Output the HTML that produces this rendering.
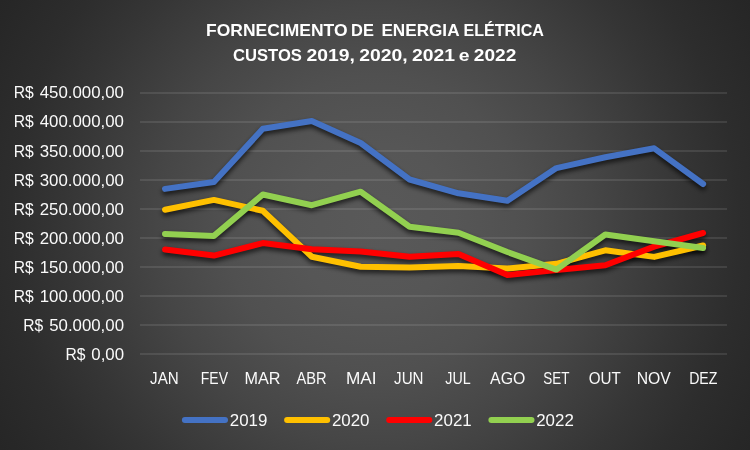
<!DOCTYPE html>
<html lang="pt-BR">
<head>
<meta charset="utf-8">
<title>Fornecimento de Energia Elétrica</title>
<style>
html,body{margin:0;padding:0;background:#262626;}
body{width:750px;height:450px;overflow:hidden;}
svg{display:block;}
text{font-family:"Liberation Sans",sans-serif;fill:#ffffff;}
.ax text{font-size:17px;fill:#fafafa;}
.title text{font-size:17.3px;font-weight:bold;}
.grid line{stroke:#ffffff;stroke-opacity:0.2;stroke-width:1;}
.series polyline,.legend line{fill:none;stroke-width:6;stroke-linecap:round;stroke-linejoin:round;}
</style>
</head>
<body>
<svg width="750" height="450" viewBox="0 0 750 450">
<defs>
<radialGradient id="bg" gradientUnits="userSpaceOnUse" cx="375" cy="225" r="437.3">
<stop offset="0" stop-color="#595959"/>
<stop offset="0.185" stop-color="#565656"/>
<stop offset="0.343" stop-color="#505050"/>
<stop offset="0.5" stop-color="#464646"/>
<stop offset="0.64" stop-color="#3b3b3b"/>
<stop offset="0.716" stop-color="#353535"/>
<stop offset="0.835" stop-color="#2d2d2d"/>
<stop offset="0.97" stop-color="#272727"/>
<stop offset="1" stop-color="#262626"/>
</radialGradient>
<filter id="sh" x="0" y="0" width="750" height="450" filterUnits="userSpaceOnUse">
<feGaussianBlur in="SourceAlpha" stdDeviation="2.5"/>
<feOffset dx="0" dy="3"/>
<feComponentTransfer><feFuncA type="linear" slope="0.7"/></feComponentTransfer>
</filter>
</defs>
<rect x="0" y="0" width="750" height="450" fill="url(#bg)"/>
<g class="title">
<text y="35.6"><tspan x="206.1" textLength="141.4" lengthAdjust="spacingAndGlyphs">FORNECIMENTO</tspan> <tspan x="351.1" textLength="22.8" lengthAdjust="spacingAndGlyphs">DE</tspan> <tspan x="381.4" textLength="77.5" lengthAdjust="spacingAndGlyphs">ENERGIA</tspan> <tspan x="463.5" textLength="80.4" lengthAdjust="spacingAndGlyphs">ELÉTRICA</tspan></text>
<text y="60.7"><tspan x="233.0" textLength="68.9" lengthAdjust="spacingAndGlyphs">CUSTOS</tspan> <tspan x="306.4" textLength="48.4" lengthAdjust="spacingAndGlyphs">2019,</tspan> <tspan x="359.2" textLength="48.4" lengthAdjust="spacingAndGlyphs">2020,</tspan> <tspan x="412.1" textLength="43.0" lengthAdjust="spacingAndGlyphs">2021</tspan> <tspan x="458.7" textLength="10.8" lengthAdjust="spacingAndGlyphs">e</tspan> <tspan x="473.8" textLength="42.5" lengthAdjust="spacingAndGlyphs">2022</tspan></text>
</g>
<g class="grid">
<line x1="140" x2="727" y1="93" y2="93"/>
<line x1="140" x2="727" y1="122" y2="122"/>
<line x1="140" x2="727" y1="151" y2="151"/>
<line x1="140" x2="727" y1="180" y2="180"/>
<line x1="140" x2="727" y1="209" y2="209"/>
<line x1="140" x2="727" y1="238" y2="238"/>
<line x1="140" x2="727" y1="267" y2="267"/>
<line x1="140" x2="727" y1="296" y2="296"/>
<line x1="140" x2="727" y1="325" y2="325"/>
<line x1="140" x2="727" y1="354" y2="354"/>
</g>
<g class="ax">
<text y="97.9"><tspan x="13.8" textLength="20" lengthAdjust="spacingAndGlyphs">R$</tspan> <tspan x="39.7" textLength="84.3" lengthAdjust="spacingAndGlyphs">450.000,00</tspan></text>
<text y="126.9"><tspan x="13.8" textLength="20" lengthAdjust="spacingAndGlyphs">R$</tspan> <tspan x="39.7" textLength="84.3" lengthAdjust="spacingAndGlyphs">400.000,00</tspan></text>
<text y="156.9"><tspan x="13.8" textLength="20" lengthAdjust="spacingAndGlyphs">R$</tspan> <tspan x="39.7" textLength="84.3" lengthAdjust="spacingAndGlyphs">350.000,00</tspan></text>
<text y="185.9"><tspan x="13.8" textLength="20" lengthAdjust="spacingAndGlyphs">R$</tspan> <tspan x="39.7" textLength="84.3" lengthAdjust="spacingAndGlyphs">300.000,00</tspan></text>
<text y="214.9"><tspan x="13.8" textLength="20" lengthAdjust="spacingAndGlyphs">R$</tspan> <tspan x="39.7" textLength="84.3" lengthAdjust="spacingAndGlyphs">250.000,00</tspan></text>
<text y="243.9"><tspan x="13.8" textLength="20" lengthAdjust="spacingAndGlyphs">R$</tspan> <tspan x="39.7" textLength="84.3" lengthAdjust="spacingAndGlyphs">200.000,00</tspan></text>
<text y="272.9"><tspan x="13.8" textLength="20" lengthAdjust="spacingAndGlyphs">R$</tspan> <tspan x="39.7" textLength="84.3" lengthAdjust="spacingAndGlyphs">150.000,00</tspan></text>
<text y="301.9"><tspan x="13.8" textLength="20" lengthAdjust="spacingAndGlyphs">R$</tspan> <tspan x="39.7" textLength="84.3" lengthAdjust="spacingAndGlyphs">100.000,00</tspan></text>
<text y="330.9"><tspan x="23.3" textLength="20" lengthAdjust="spacingAndGlyphs">R$</tspan> <tspan x="49.2" textLength="74.8" lengthAdjust="spacingAndGlyphs">50.000,00</tspan></text>
<text y="359.9"><tspan x="65.4" textLength="20" lengthAdjust="spacingAndGlyphs">R$</tspan> <tspan x="91.3" textLength="32.7" lengthAdjust="spacingAndGlyphs">0,00</tspan></text>
<text x="164.4" y="384" text-anchor="middle" textLength="28.6" lengthAdjust="spacingAndGlyphs">JAN</text>
<text x="214.4" y="384" text-anchor="middle" textLength="27.2" lengthAdjust="spacingAndGlyphs">FEV</text>
<text x="262.5" y="384" text-anchor="middle" textLength="36.0" lengthAdjust="spacingAndGlyphs">MAR</text>
<text x="311.6" y="384" text-anchor="middle" textLength="30.2" lengthAdjust="spacingAndGlyphs">ABR</text>
<text x="361.2" y="384" text-anchor="middle" textLength="30.6" lengthAdjust="spacingAndGlyphs">MAI</text>
<text x="408.8" y="384" text-anchor="middle" textLength="29.4" lengthAdjust="spacingAndGlyphs">JUN</text>
<text x="458.0" y="384" text-anchor="middle" textLength="25.4" lengthAdjust="spacingAndGlyphs">JUL</text>
<text x="507.7" y="384" text-anchor="middle" textLength="35.2" lengthAdjust="spacingAndGlyphs">AGO</text>
<text x="556.4" y="384" text-anchor="middle" textLength="26.2" lengthAdjust="spacingAndGlyphs">SET</text>
<text x="604.7" y="384" text-anchor="middle" textLength="32.0" lengthAdjust="spacingAndGlyphs">OUT</text>
<text x="653.7" y="384" text-anchor="middle" textLength="34.1" lengthAdjust="spacingAndGlyphs">NOV</text>
<text x="703.3" y="384" text-anchor="middle" textLength="28.3" lengthAdjust="spacingAndGlyphs">DEZ</text>
</g>
<g class="series shadow">
<polyline points="165.0,188.9 213.9,182.0 262.8,128.8 311.8,121.0 360.7,143.0 409.6,179.5 458.5,193.3 507.4,200.8 556.4,168.1 605.3,157.2 654.2,148.3 703.1,184.0" stroke="#000" filter="url(#sh)"/>
<polyline points="165.0,209.7 213.9,199.9 262.8,210.8 311.8,256.7 360.7,266.7 409.6,267.5 458.5,266.1 507.4,268.6 556.4,263.8 605.3,250.3 654.2,256.9 703.1,245.5" stroke="#000" filter="url(#sh)"/>
<polyline points="165.0,249.5 213.9,255.6 262.8,243.1 311.8,249.2 360.7,251.5 409.6,256.8 458.5,254.0 507.4,275.1 556.4,269.9 605.3,265.3 654.2,246.6 703.1,233.0" stroke="#000" filter="url(#sh)"/>
<polyline points="165.0,234.0 213.9,235.9 262.8,194.5 311.8,205.2 360.7,191.7 409.6,226.7 458.5,232.8 507.4,252.0 556.4,269.6 605.3,234.5 654.2,241.2 703.1,248.0" stroke="#000" filter="url(#sh)"/>
</g>
<g class="series">
<polyline points="165.0,188.9 213.9,182.0 262.8,128.8 311.8,121.0 360.7,143.0 409.6,179.5 458.5,193.3 507.4,200.8 556.4,168.1 605.3,157.2 654.2,148.3 703.1,184.0" stroke="#4472C4"/>
<polyline points="165.0,209.7 213.9,199.9 262.8,210.8 311.8,256.7 360.7,266.7 409.6,267.5 458.5,266.1 507.4,268.6 556.4,263.8 605.3,250.3 654.2,256.9 703.1,245.5" stroke="#FFC000"/>
<polyline points="165.0,249.5 213.9,255.6 262.8,243.1 311.8,249.2 360.7,251.5 409.6,256.8 458.5,254.0 507.4,275.1 556.4,269.9 605.3,265.3 654.2,246.6 703.1,233.0" stroke="#FF0000"/>
<polyline points="165.0,234.0 213.9,235.9 262.8,194.5 311.8,205.2 360.7,191.7 409.6,226.7 458.5,232.8 507.4,252.0 556.4,269.6 605.3,234.5 654.2,241.2 703.1,248.0" stroke="#92D050"/>
</g>
<g class="legend ax">
<line x1="184.9" x2="225.0" y1="420" y2="420" stroke="#4472C4"/>
<text x="229.8" y="425.9" textLength="37.6" lengthAdjust="spacingAndGlyphs">2019</text>
<line x1="287.1" x2="327.2" y1="420" y2="420" stroke="#FFC000"/>
<text x="331.9" y="425.9" textLength="37.6" lengthAdjust="spacingAndGlyphs">2020</text>
<line x1="389.2" x2="429.3" y1="420" y2="420" stroke="#FF0000"/>
<text x="434.1" y="425.9" textLength="37.6" lengthAdjust="spacingAndGlyphs">2021</text>
<line x1="491.4" x2="531.5" y1="420" y2="420" stroke="#92D050"/>
<text x="536.2" y="425.9" textLength="37.6" lengthAdjust="spacingAndGlyphs">2022</text>
</g>
</svg>
</body>
</html>
